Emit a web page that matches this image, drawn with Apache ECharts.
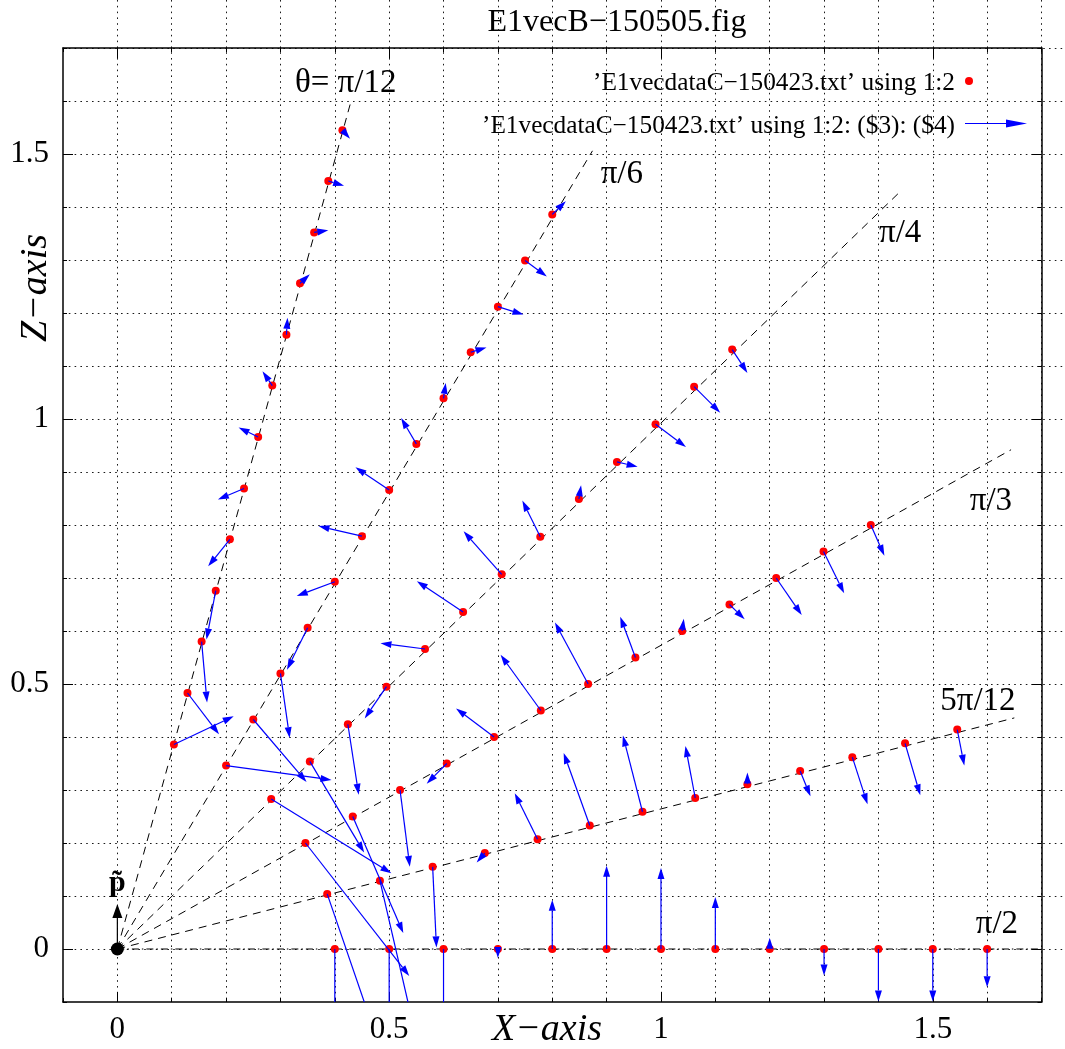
<!DOCTYPE html>
<html>
<head>
<meta charset="utf-8">
<title>E1vecB-150505.fig</title>
<script src="https://cdn.jsdelivr.net/npm/echarts@6/dist/echarts.min.js"></script>
<style>
  html, body { margin: 0; padding: 0; background: #fff; }
  #chart { width: 1065px; height: 1049px; }
</style>
</head>
<body>
<div id="chart"></div>
<script>
// each row: [x, z, dx, dz], one array per ray (theta from the z axis)
const rayPi12 = [
  [0.104, 0.386, 0.110, 0.053],
  [0.129, 0.483, 0.058, -0.078],
  [0.155, 0.580, 0.010, -0.115],
  [0.181, 0.676, -0.017, -0.092],
  [0.207, 0.773, -0.040, -0.051],
  [0.233, 0.869, -0.048, -0.021],
  [0.259, 0.966, -0.036, 0.018],
  [0.285, 1.063, -0.018, 0.027],
  [0.311, 1.159, 0.002, 0.032],
  [0.336, 1.256, 0.018, 0.017],
  [0.362, 1.352, 0.026, 0.004],
  [0.388, 1.449, 0.029, -0.009],
  [0.414, 1.545, 0.014, -0.016]
]
const rayPi6 = [
  [0.200, 0.346, 0.194, -0.027],
  [0.250, 0.433, 0.098, -0.118],
  [0.300, 0.520, 0.017, -0.122],
  [0.350, 0.606, -0.038, -0.079],
  [0.400, 0.693, -0.070, -0.027],
  [0.450, 0.779, -0.080, 0.019],
  [0.500, 0.866, -0.062, 0.043],
  [0.550, 0.953, -0.028, 0.049],
  [0.600, 1.039, 0.004, 0.029],
  [0.650, 1.126, 0.029, 0.009],
  [0.700, 1.212, 0.047, -0.015],
  [0.750, 1.299, 0.040, -0.030],
  [0.800, 1.386, 0.025, 0.025]
]
const rayPi4 = [
  [0.283, 0.283, 0.221, -0.140],
  [0.354, 0.354, 0.100, -0.172],
  [0.424, 0.424, 0.020, -0.133],
  [0.495, 0.495, -0.040, -0.060],
  [0.566, 0.566, -0.082, 0.011],
  [0.636, 0.636, -0.085, 0.058],
  [0.707, 0.707, -0.070, 0.081],
  [0.778, 0.778, -0.033, 0.068],
  [0.849, 0.849, 0.004, 0.026],
  [0.919, 0.919, 0.038, -0.009],
  [0.990, 0.990, 0.056, -0.043],
  [1.061, 1.061, 0.048, -0.049],
  [1.131, 1.131, 0.028, -0.044]
]
const rayPi3 = [
  [0.346, 0.200, 0.191, -0.251],
  [0.433, 0.250, 0.093, -0.220],
  [0.520, 0.300, 0.018, -0.145],
  [0.606, 0.350, -0.037, -0.038],
  [0.693, 0.400, -0.070, 0.054],
  [0.779, 0.450, -0.074, 0.105],
  [0.866, 0.500, -0.061, 0.116],
  [0.953, 0.550, -0.028, 0.077],
  [1.039, 0.600, 0.003, 0.023],
  [1.126, 0.650, 0.028, -0.028],
  [1.212, 0.700, 0.047, -0.070],
  [1.299, 0.750, 0.038, -0.079],
  [1.386, 0.800, 0.025, -0.058]
]
const ray5Pi12 = [
  [0.386, 0.104, 0.101, -0.302],
  [0.483, 0.129, 0.068, -0.302],
  [0.580, 0.155, 0.007, -0.152],
  [0.676, 0.181, -0.015, -0.018],
  [0.773, 0.207, -0.042, 0.087],
  [0.869, 0.233, -0.048, 0.137],
  [0.966, 0.259, -0.036, 0.144],
  [1.063, 0.285, -0.018, 0.098],
  [1.159, 0.311, 0.000, 0.022],
  [1.256, 0.336, 0.019, -0.048],
  [1.352, 0.362, 0.028, -0.089],
  [1.449, 0.388, 0.028, -0.098],
  [1.545, 0.414, 0.013, -0.068]
]
const rayPi2 = [
  [0.4, 0, 0, -0.30],
  [0.5, 0, 0, -0.30],
  [0.6, 0, 0, -0.20],
  [0.7, 0, 0, -0.017],
  [0.8, 0, 0, 0.093],
  [0.9, 0, 0, 0.157],
  [1.0, 0, 0, 0.153],
  [1.1, 0, 0, 0.098],
  [1.2, 0, 0, 0.021],
  [1.3, 0, 0, -0.050],
  [1.4, 0, 0, -0.099],
  [1.5, 0, 0, -0.099],
  [1.6, 0, 0, -0.072]
]

// guide rays from the origin and their labels
const rayEnds = [[0.431, 1.604], [0.874, 1.506], [1.441, 1.430], [1.644, 0.942], [1.650, 0.436], [1.7, 0]]
const rayLabels = ['θ= π/12', 'π/6', 'π/4', 'π/3', '5π/12', 'π/2']
const rayLabelPos = [[0.420, 1.634], [0.928, 1.462], [1.440, 1.351], [1.607, 0.845], [1.583, 0.468], [1.618, 0.047]]

const majorTicks = [0, 0.5, 1, 1.5]
const pVector = [0, 0, 0, 0.085]

const FONT = '"Liberation Serif", "Times New Roman", serif'
const allRays = [rayPi12, rayPi6, rayPi4, rayPi3, ray5Pi12, rayPi2]
const vectors = allRays.flat()

function arrowRenderer(color, headLen, headHalf) {
  return function (params, api) {
    const x = api.value(0), z = api.value(1)
    const p0 = api.coord([x, z])
    const p1 = api.coord([x + api.value(2), z + api.value(3)])
    const len = Math.hypot(p1[0] - p0[0], p1[1] - p0[1])
    if (len < 0.5) return null
    const c = (p1[0] - p0[0]) / len, s = (p1[1] - p0[1]) / len
    const bx = p1[0] - headLen * c, by = p1[1] - headLen * s
    const children = []
    if (len > headLen) {
      children.push({
        type: 'line',
        shape: { x1: p0[0], y1: p0[1], x2: bx, y2: by },
        style: { stroke: color, lineWidth: 1.2 }
      })
    }
    children.push({
      type: 'polygon',
      shape: { points: [p1, [bx - headHalf * s, by + headHalf * c], [bx + headHalf * s, by - headHalf * c]] },
      style: { fill: color }
    })
    return { type: 'group', children }
  }
}

function minorAxis(pos) {
  return {
    type: 'value', gridIndex: 0, position: pos, min: -0.1, max: 1.7, interval: 0.1,
    axisLine: { show: true, onZero: false, lineStyle: { color: '#000', width: 1.5 } },
    axisTick: { inside: true, length: 4, lineStyle: { color: '#000' } },
    axisLabel: { show: false },
    splitLine: { show: false }
  }
}

function majorAxis(pos) {
  const main = pos === 'bottom' || pos === 'left'
  return {
    type: 'value', gridIndex: 1, position: pos, min: -0.1, max: 1.7,
    axisLine: { show: false, onZero: false },
    axisTick: { inside: true, length: 10, customValues: majorTicks, lineStyle: { color: '#000' } },
    axisLabel: {
      show: main, customValues: majorTicks, color: '#000',
      fontFamily: FONT, fontSize: 31, margin: pos === 'left' ? 14 : 12
    },
    splitLine: { show: false }
  }
}

// the dotted grid runs past the frame to the top and right edges of the figure
function gridAxis(dim) {
  return {
    type: 'value', gridIndex: 2, min: -0.1, max: dim === 'x' ? 1.7432 : 1.7906, interval: 0.1,
    axisLine: { show: false, onZero: false },
    axisTick: { show: false },
    axisLabel: { show: false },
    splitLine: { show: true, showMinLine: false, showMaxLine: false, lineStyle: { color: '#1a1a1a', width: 1, type: [1.6, 4.2] } }
  }
}

const rayLineSeries = rayEnds.map((end, i) => ({
  type: 'line',
  data: [[0, 0], end],
  showSymbol: false,
  silent: true,
  z: 1,
  lineStyle: { color: '#000', width: 1, type: i === rayEnds.length - 1 ? [7, 3, 1.5, 3] : [8, 6] }
}))

const chart = echarts.init(document.getElementById('chart'))

const option = {
  backgroundColor: '#fff',
  animation: false,
  grid: [
    { left: 63, right: 23.5, top: 48, bottom: 47 },
    { left: 63, right: 23.5, top: 48, bottom: 47 },
    { left: 63, right: 0, top: 0, bottom: 47 }
  ],
  xAxis: [minorAxis('bottom'), minorAxis('top'), majorAxis('bottom'), majorAxis('top'), gridAxis('x')],
  yAxis: [minorAxis('left'), minorAxis('right'), majorAxis('left'), majorAxis('right'), gridAxis('y')],
  graphic: [
    {
      type: 'text', x: 617, y: 23,
      style: { text: 'E1vecB−150505.fig', font: '32px ' + FONT, fill: '#000', textAlign: 'center', textVerticalAlign: 'middle' }
    },
    {
      type: 'text', x: 547, y: 1030,
      style: { text: 'X−axis', font: 'italic 38px ' + FONT, fill: '#000', textAlign: 'center', textVerticalAlign: 'middle' }
    },
    {
      type: 'text', x: 36, y: 288, rotation: Math.PI / 2,
      style: { text: 'Z−axis', font: 'italic 38px ' + FONT, fill: '#000', textAlign: 'center', textVerticalAlign: 'middle' }
    },
    {
      type: 'text', x: 955, y: 83,
      style: { text: '’E1vecdataC−150423.txt’ using 1:2', font: '25.3px ' + FONT, fill: '#000', textAlign: 'right', textVerticalAlign: 'middle' }
    },
    { type: 'circle', shape: { cx: 969, cy: 81, r: 4 }, style: { fill: '#ff0000' } },
    {
      type: 'text', x: 955, y: 126,
      style: { text: '’E1vecdataC−150423.txt’ using 1:2: ($3): ($4)', font: '25.3px ' + FONT, fill: '#000', textAlign: 'right', textVerticalAlign: 'middle' }
    },
    { type: 'line', shape: { x1: 965, y1: 123.5, x2: 1008, y2: 123.5 }, style: { stroke: '#0000ff', lineWidth: 1.2 } },
    { type: 'polygon', shape: { points: [[1027, 123.5], [1006, 119.5], [1006, 127.5]] }, style: { fill: '#0000ff' } }
  ],
  series: [
    ...rayLineSeries,
    {
      type: 'scatter',
      data: vectors.map(v => [v[0], v[1]]),
      symbol: 'circle',
      symbolSize: 8,
      itemStyle: { color: '#ff0000', opacity: 1 },
      z: 3
    },
    {
      type: 'custom',
      data: vectors,
      encode: { x: 0, y: 1 },
      clip: true,
      renderItem: arrowRenderer('#0000ff', 11, 3.5),
      z: 4
    },
    {
      type: 'scatter',
      data: [[pVector[0], pVector[1]]],
      symbolSize: 13,
      itemStyle: { color: '#000', opacity: 1 },
      z: 5
    },
    {
      type: 'custom',
      data: [pVector],
      encode: { x: 0, y: 1 },
      renderItem: arrowRenderer('#000', 14, 5),
      z: 5
    },
    {
      type: 'scatter',
      data: [{ value: [0, 0.125], label: { formatter: 'p\u0303', fontWeight: 'bold', fontSize: 30 } }]
        .concat(rayLabels.map((t, i) => ({ value: rayLabelPos[i], label: { formatter: t } }))),
      symbolSize: 0,
      silent: true,
      z: 6,
      itemStyle: { opacity: 1 },
      label: {
        show: true, position: 'inside', color: '#000', opacity: 1,
        fontFamily: FONT, fontSize: 33
      }
    }
  ]
}

chart.setOption(option)
window.addEventListener('resize', () => chart.resize())
</script>
</body>
</html>
